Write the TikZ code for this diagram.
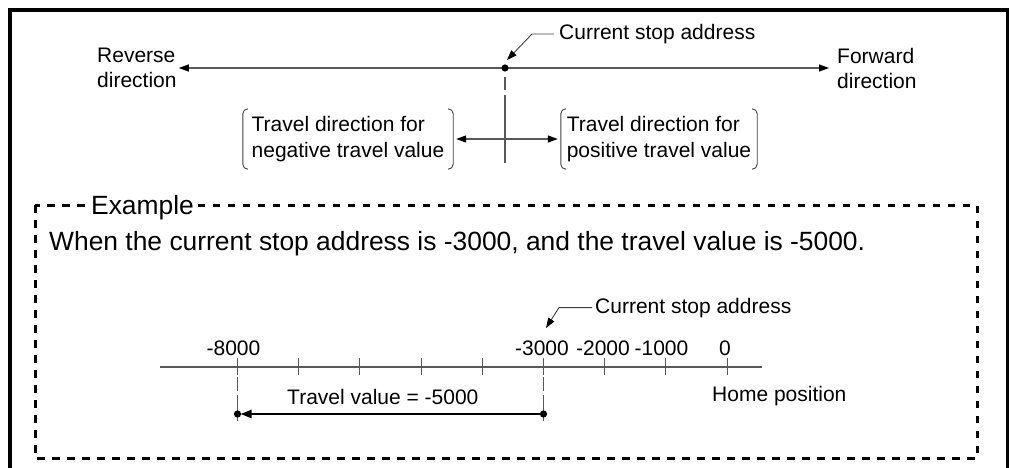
\documentclass[tikz,border=0pt]{standalone}
\usepackage{fontspec}
\setmainfont{Liberation Sans}
\usetikzlibrary{arrows.meta}
\begin{document}
\begin{tikzpicture}[x=1pt,y=-1pt,
  axis/.style={draw=black!65,line width=1.1pt},
  tri/.tip={Triangle[length=10pt,width=7pt,color=black]},
  tip/.style={-tri},
  lbl/.style={inner sep=0pt,font=\fontsize{21}{25}\selectfont},
  big/.style={inner sep=0pt,font=\fontsize{26.4}{30}\selectfont},
  brk/.style={draw=black!75,line width=0.9pt,rounded corners=5pt},
  bracketbox/.style={inner sep=0pt,minimum width=#1,minimum height=60pt,align=left,font=\fontsize{21}{26}\selectfont},
  dashline/.style={draw=black!65,line width=1.1pt,dash pattern=on 13pt off 5pt on 300pt},
  dot/.style={fill=black}
]
\useasboundingbox (0,0) rectangle (1009,468);
% outer frame
\draw[line width=4pt] (10,470) -- (10,10.5) -- (1007.5,10.5) -- (1007.5,470);

% ---------- top part ----------
\coordinate (cur) at (505,68);
\node[lbl,anchor=west,align=left] (rev) at (97,68) {Reverse\\direction};
\node[lbl,anchor=west,align=left] (fwd) at (837,68) {Forward\\direction};
\draw[axis,tri-tri] ([xshift=2pt]rev.east) -- ([xshift=-8pt]fwd.west);
\fill[dot] (cur) circle (3.6);
\node[lbl,anchor=west] (csa) at (559,34) {Current stop address};
\coordinate (csatip) at (507,60);
\draw[draw=black!75,line width=0.9pt,tip] ([xshift=-5pt]csa.west) -- ++(-22,0) -- (csatip);
\coordinate (vtop) at (505,77);
\coordinate (vbot) at (505,163);
\draw[dashline] (vtop) -- (vbot);

\node[bracketbox=210pt] (neg) at (348,139) {Travel direction for\\negative travel value};
\node[bracketbox=196pt] (pos) at (659,139) {Travel direction for\\positive travel value};
\foreach \n in {neg,pos}{
  \draw[brk] ([xshift=5pt]\n.north west) -- (\n.north west) -- (\n.south west) -- ([xshift=5pt]\n.south west);
  \draw[brk] ([xshift=-5pt]\n.north east) -- (\n.north east) -- (\n.south east) -- ([xshift=-5pt]\n.south east);
}
\draw[axis,tri-tri] ([xshift=3pt]neg.east) -- ([xshift=-3pt]pos.west);

% ---------- example box ----------
\draw[line width=3pt,dash pattern=on 7.5pt off 7.5pt] (35,205) rectangle (977,458);
\node[big,fill=white,inner xsep=3pt,inner ysep=1pt,anchor=base] (ex) at (142.5,214.5) {Example};
\node[big,anchor=base west] (sent) at (49,250) {When the current stop address is -3000, and the travel value is -5000.};

% number line
\coordinate (al) at (160,367);
\coordinate (ar) at (762,367);
\draw[axis] (al) -- (ar);
\foreach \i in {0,...,8}{
  \draw[axis] ({237.5+\i*61.2},358) -- ({237.5+\i*61.2},375);
}
\node[lbl,anchor=base] (n8) at (233.5,355) {-8000};
\node[lbl,anchor=base] (n3) at (542,355) {-3000};
\node[lbl,anchor=base] (n2) at (603,355) {-2000};
\node[lbl,anchor=base] (n1) at (661.5,355) {-1000};
\node[lbl,anchor=base] (n0) at (725,355) {0};

\node[lbl,anchor=base west] (csb) at (595,313) {Current stop address};
\coordinate (csbtip) at (546,328);
\draw[draw=black!75,line width=0.9pt,tip] ([xshift=-3pt]csb.west) -- ++(-33,0) -- (csbtip);

\node[lbl,anchor=base west] (home) at (712,401) {Home position};
\node[lbl,anchor=base west] (tv) at (287,404) {Travel value = -5000};

\coordinate (d8) at (237.5,414);
\coordinate (d3) at (543.5,414);
\draw[dashline,dash pattern=on 14pt off 4pt on 300pt] (237.5,377) -- (237.5,421);
\draw[dashline,dash pattern=on 14pt off 4pt on 300pt] (543.5,377) -- (543.5,421);
\draw[line width=2.2pt,-{Triangle[length=11pt,width=8pt]},shorten >=3pt] (d3) -- (d8);
\fill[dot] (d8) circle (3.6);
\fill[dot] (d3) circle (3.6);
\end{tikzpicture}
\end{document}
